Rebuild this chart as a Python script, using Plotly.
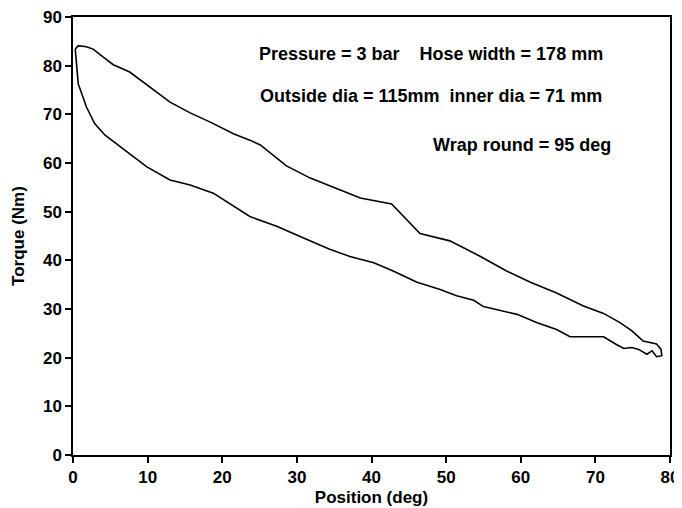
import plotly.graph_objects as go

# loading branch (upper curve), left to right
upper_x = [0.3, 0.7, 1.8, 2.7, 4.1, 5.4, 7.6, 10.3, 13.0, 15.7, 18.4, 21.5, 23.7, 25.1,
           28.6, 31.8, 35.3, 38.5, 42.7, 46.5, 50.5, 54.6, 58.1, 61.3, 64.8, 68.4,
           71.1, 73.3, 74.9, 76.4, 78.2, 78.8, 78.9]
upper_y = [83.4, 84.1, 83.9, 83.4, 81.7, 80.2, 78.7, 75.6, 72.5, 70.3, 68.4, 66.0, 64.7, 63.7,
           59.4, 56.9, 54.8, 52.8, 51.6, 45.5, 44.0, 40.8, 37.8, 35.5, 33.3, 30.6,
           29.1, 27.2, 25.5, 23.4, 22.8, 21.7, 20.4]

# unloading branch (lower curve), right to left
lower_x = [78.2, 77.6, 76.9, 75.8, 74.9, 73.8, 72.7, 71.1, 66.6, 64.8, 62.2, 59.5, 55.0,
           53.7, 51.4, 49.2, 46.1, 42.9, 40.3, 37.1, 34.4, 30.9, 27.3, 23.7, 21.0,
           18.8, 15.7, 13.0, 9.9, 6.7, 4.3, 2.9, 1.8, 0.7, 0.3]
lower_y = [20.2, 21.4, 20.7, 21.7, 22.1, 21.9, 22.8, 24.3, 24.3, 25.8, 27.2, 28.9, 30.5,
           31.8, 32.7, 34.0, 35.5, 37.8, 39.5, 40.8, 42.3, 44.6, 47.0, 49.0, 51.7,
           53.8, 55.5, 56.5, 59.2, 63.0, 65.7, 68.1, 71.5, 76.3, 83.4]

x_ticks = [0, 10, 20, 30, 40, 50, 60, 70, 80]
y_ticks = [0, 10, 20, 30, 40, 50, 60, 70, 80, 90]

notes = ["Pressure = 3 bar    Hose width = 178 mm",
         "Outside dia = 115mm  inner dia = 71 mm",
         "Wrap round = 95 deg"]

FONT = 'Liberation Sans'

fig = go.Figure()

fig.add_trace(go.Scatter(
    x=upper_x + lower_x,
    y=upper_y + lower_y,
    mode='lines',
    line=dict(color='black', width=1.6),
    showlegend=False
))

# text block in the top right
note_font = dict(family=FONT, size=18, color='black', weight='bold')
fig.add_annotation(x=48, y=82.5, text=notes[0], showarrow=False, xanchor='center', font=note_font)
fig.add_annotation(x=48, y=73.7, text=notes[1], showarrow=False, xanchor='center', font=note_font)
fig.add_annotation(x=72.4, y=63.8, text=notes[2], showarrow=False, xanchor='right', font=note_font)

axis_style = dict(
    showline=True, linecolor='black', linewidth=1.5, mirror=True,
    showgrid=False, zeroline=False, automargin=False,
    ticks='outside', ticklen=6, tickcolor='black', tickwidth=1.5,
    ticklabeloverflow='allow',
    tickfont=dict(family=FONT, size=17, color='black', weight='bold'),
)
title_font = dict(family=FONT, size=17, color='black', weight='bold')

fig.update_xaxes(range=[0, 80], tickvals=x_ticks, **axis_style,
                 title=dict(text='Position (deg)', standoff=5, font=title_font))
fig.update_yaxes(range=[0, 90], tickvals=y_ticks, **axis_style,
                 title=dict(text='Torque (Nm)', standoff=14, font=title_font))

# the page body adds an 8px offset, so margins are shifted to compensate
fig.update_layout(
    width=682, height=508,
    margin=dict(l=65, r=20, t=9, b=61),
    plot_bgcolor='white', paper_bgcolor='white',
    font=dict(family=FONT, size=17, color='black'),
)

fig.write_html("out.html")
